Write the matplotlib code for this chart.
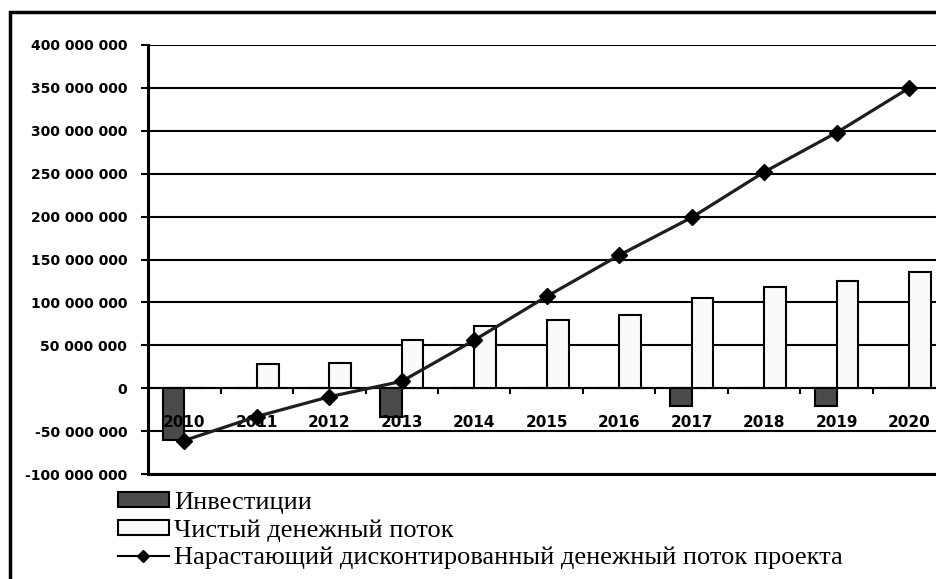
import numpy as np
import matplotlib
matplotlib.use("Agg")
import matplotlib.pyplot as plt
from matplotlib.patches import Rectangle
from matplotlib.lines import Line2D
from matplotlib.ticker import FuncFormatter

years = ["2010", "2011", "2012", "2013", "2014", "2015", "2016", "2017", "2018", "2019", "2020"]
invest = [-60e6, 0, 0, -33e6, 0, 0, 0, -21e6, 0, -21e6, 0]
net_flow = [0, 28e6, 29.5e6, 56e6, 72e6, 80e6, 85e6, 105e6, 118e6, 125e6, 136e6]
cum_dcf = [-61e6, -33e6, -10e6, 8e6, 56e6, 107e6, 155e6, 199e6, 252e6, 298e6, 350e6]

lbl_font = ["DejaVu Sans"]
leg_font = ["Liberation Serif", "DejaVu Serif"]

W, H = 937, 579
fig = plt.figure(figsize=(W / 100, H / 100), dpi=100)

# plot area in pixels: x 148..945, y 45..474
ax = fig.add_axes([148 / W, (H - 474) / H, 797.5 / W, 429 / H])
x = np.arange(len(years))
bw = 0.30

ax.bar(x - bw / 2, invest, width=bw, color="#4a4a4a", edgecolor="black", linewidth=1.5, zorder=3)
ax.bar(x + bw / 2, net_flow, width=bw, color="#fafafa", edgecolor="black", linewidth=1.5, zorder=3)
ax.plot(x, cum_dcf, color="#1e1e1e", linewidth=2.3, marker="D", markersize=8,
        markerfacecolor="black", markeredgecolor="black", zorder=5)

ax.set_xlim(-0.5, len(years) - 0.5)
ax.set_ylim(-100e6, 400e6)
ax.set_yticks(np.arange(-100e6, 400e6 + 1, 50e6))
ax.yaxis.set_major_formatter(FuncFormatter(lambda v, p: "{:,.0f}".format(v).replace(",", " ")))
for t in ax.get_yticklabels():
    t.set_family(lbl_font)
    t.set_fontweight("bold")
    t.set_fontsize(10)
ax.tick_params(axis="y", direction="out", length=5, width=1.5, pad=10, colors="black")

# category axis sits on zero with ticks between categories
ax.spines["bottom"].set_position(("data", 0))
ax.spines["bottom"].set_linewidth(1.5)
ax.set_xticks(np.arange(0.5, len(years) - 0.5, 1.0))
ax.set_xticklabels([])
ax.tick_params(axis="x", direction="out", length=4, width=1.5)

for s in ["top", "right"]:
    ax.spines[s].set_visible(False)
ax.spines["left"].set_linewidth(2.2)

ax.yaxis.grid(True, color="black", linewidth=1.5)
ax.set_axisbelow(True)
ax.axhline(-100e6, color="black", linewidth=2.2, zorder=6, clip_on=False)

for i, yr in enumerate(years):
    ax.text(i, -40e6, yr, ha="center", va="center", family=lbl_font,
            fontweight="bold", fontsize=11, zorder=4)

# outer chart frame
fig.patches.append(Rectangle((10 / W, -0.1), 1.2, (H - 12) / H + 0.1, transform=fig.transFigure,
                             fill=False, edgecolor="black", linewidth=2.5))

handles = [
    Rectangle((0, 0), 1, 1, facecolor="#4a4a4a", edgecolor="black", linewidth=1.5),
    Rectangle((0, 0), 1, 1, facecolor="#fafafa", edgecolor="black", linewidth=1.5),
    Line2D([], [], color="black", linewidth=1.5, marker="D", markersize=6),
]
labels = ["Инвестиции", "Чистый денежный поток", "Нарастающий дисконтированный денежный поток проекта"]
fig.legend(handles, labels, loc="upper left", bbox_to_anchor=(118 / W, (H - 492) / H),
           frameon=False, prop={"family": leg_font, "size": 19}, handlelength=1.93,
           handleheight=0.5, handletextpad=0.2, labelspacing=0.19, borderaxespad=0,
           borderpad=0)

fig.savefig("out.png", dpi=100)
